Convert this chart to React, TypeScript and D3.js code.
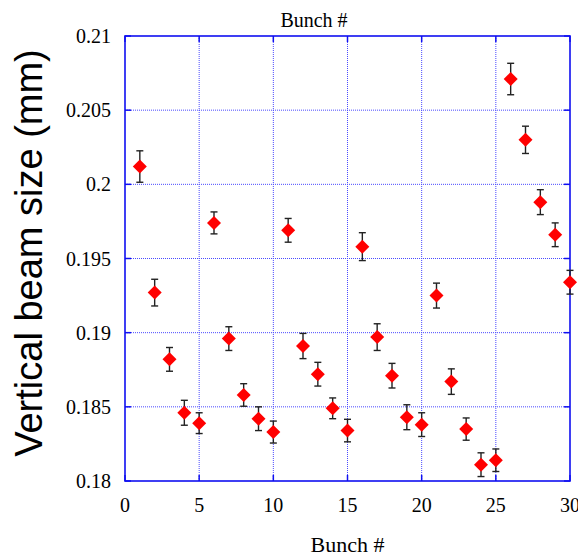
import React from "react";
import * as d3 from "d3";

const bunches = d3.range(1, 31);
const beamSize = [
  0.2012, 0.1927, 0.1882, 0.1846, 0.1839, 0.1974, 0.1896, 0.1858, 0.1842, 0.1833,
  0.1969, 0.1891, 0.1872, 0.1849, 0.1834, 0.1958, 0.1897, 0.1871, 0.1843, 0.1838,
  0.1925, 0.1867, 0.1835, 0.1811, 0.1814, 0.2071, 0.203, 0.1988, 0.1966, 0.1934,
];
const beamErr = [
  0.00106, 0.0009, 0.0008, 0.00084, 0.0007, 0.00074, 0.0008, 0.00076, 0.0008, 0.00074,
  0.0008, 0.00085, 0.0008, 0.0007, 0.00076, 0.00094, 0.0009, 0.00083, 0.00084, 0.0008,
  0.00084, 0.00086, 0.00075, 0.0008, 0.00076, 0.00106, 0.00092, 0.00084, 0.0008, 0.0008,
];
const xTicks = [0, 5, 10, 15, 20, 25, 30];
const yTicks = [0.18, 0.185, 0.19, 0.195, 0.2, 0.205, 0.21];
const yTickLabels = ["0.18", "0.185", "0.19", "0.195", "0.2", "0.205", "0.21"];
const xTitle = "Bunch #";
const yTitle = "Vertical beam size (mm)";

const W = 578;
const H = 557;
const left = 125;
const right = 570;
const top = 36;
const bottom = 481;

export default function App() {
  const x = d3.scaleLinear().domain([0, 30]).range([left, right]);
  const y = d3.scaleLinear().domain([0.18, 0.21]).range([bottom, top]);
  const serifStyle = { fontFamily: "Liberation Serif" };
  const sansStyle = { fontFamily: "Liberation Sans" };
  const frame = "#1010f0";
  const grid = "#4a4aff";
  const tickLen = 6;
  const r = 7;
  const cap = 3.5;

  return (
    <svg
      width={W}
      height={H}
      style={{ position: "absolute", left: 0, top: 0, background: "#fff" }}
    >
      <rect x={0} y={0} width={W} height={H} fill="#fff" />
      {xTicks.slice(1, -1).map((t) => (
        <line
          key={"gx" + t}
          x1={x(t)}
          x2={x(t)}
          y1={top}
          y2={bottom}
          stroke={grid}
          strokeWidth={1}
          strokeDasharray="1,1"
        />
      ))}
      {yTicks.slice(1, -1).map((t) => (
        <line
          key={"gy" + t}
          x1={left}
          x2={right}
          y1={y(t)}
          y2={y(t)}
          stroke={grid}
          strokeWidth={1}
          strokeDasharray="1,1"
        />
      ))}
      {xTicks.map((t) => (
        <g key={"tx" + t}>
          <line x1={x(t)} x2={x(t)} y1={bottom} y2={bottom - tickLen} stroke={frame} strokeWidth={1.5} />
          <line x1={x(t)} x2={x(t)} y1={top} y2={top + tickLen} stroke={frame} strokeWidth={1.5} />
        </g>
      ))}
      {yTicks.map((t) => (
        <g key={"ty" + t}>
          <line x1={left} x2={left + tickLen} y1={y(t)} y2={y(t)} stroke={frame} strokeWidth={1.5} />
          <line x1={right} x2={right - tickLen} y1={y(t)} y2={y(t)} stroke={frame} strokeWidth={1.5} />
        </g>
      ))}
      <rect
        x={left}
        y={top}
        width={right - left}
        height={bottom - top}
        fill="none"
        stroke={frame}
        strokeWidth={1.6}
      />
      {yTicks.map((t, i) => (
        <text
          key={"yl" + t}
          x={111}
          y={y(t) + 7}
          textAnchor="end"
          style={serifStyle}
          fontSize={20}
          fill="#000"
        >
          {yTickLabels[i]}
        </text>
      ))}
      {xTicks.map((t) => (
        <text
          key={"xl" + t}
          x={x(t)}
          y={512}
          textAnchor="middle"
          style={serifStyle}
          fontSize={20}
          fill="#000"
        >
          {t}
        </text>
      ))}
      {bunches.map((b, i) => {
        const cx = x(b);
        const cy = y(beamSize[i]);
        const y1 = y(beamSize[i] + beamErr[i]);
        const y2 = y(beamSize[i] - beamErr[i]);
        return (
          <g key={"p" + b}>
            <line x1={cx} x2={cx} y1={y1} y2={y2} stroke="#222" strokeWidth={1.4} />
            <line x1={cx - cap} x2={cx + cap} y1={y1} y2={y1} stroke="#222" strokeWidth={1.4} />
            <line x1={cx - cap} x2={cx + cap} y1={y2} y2={y2} stroke="#222" strokeWidth={1.4} />
            <path
              d={`M${cx},${cy - r}L${cx + r},${cy}L${cx},${cy + r}L${cx - r},${cy}Z`}
              fill="#ff0000"
            />
          </g>
        );
      })}
      <text x={314} y={27} textAnchor="middle" style={serifStyle} fontSize={20} fill="#000">
        {xTitle}
      </text>
      <text x={347.5} y={552} textAnchor="middle" style={serifStyle} fontSize={22} fill="#000">
        {xTitle}
      </text>
      <text
        transform={`translate(42,253) rotate(-90)`}
        textAnchor="middle"
        style={sansStyle}
        fontSize={38}
        fill="#000"
      >
        {yTitle}
      </text>
    </svg>
  );
}
